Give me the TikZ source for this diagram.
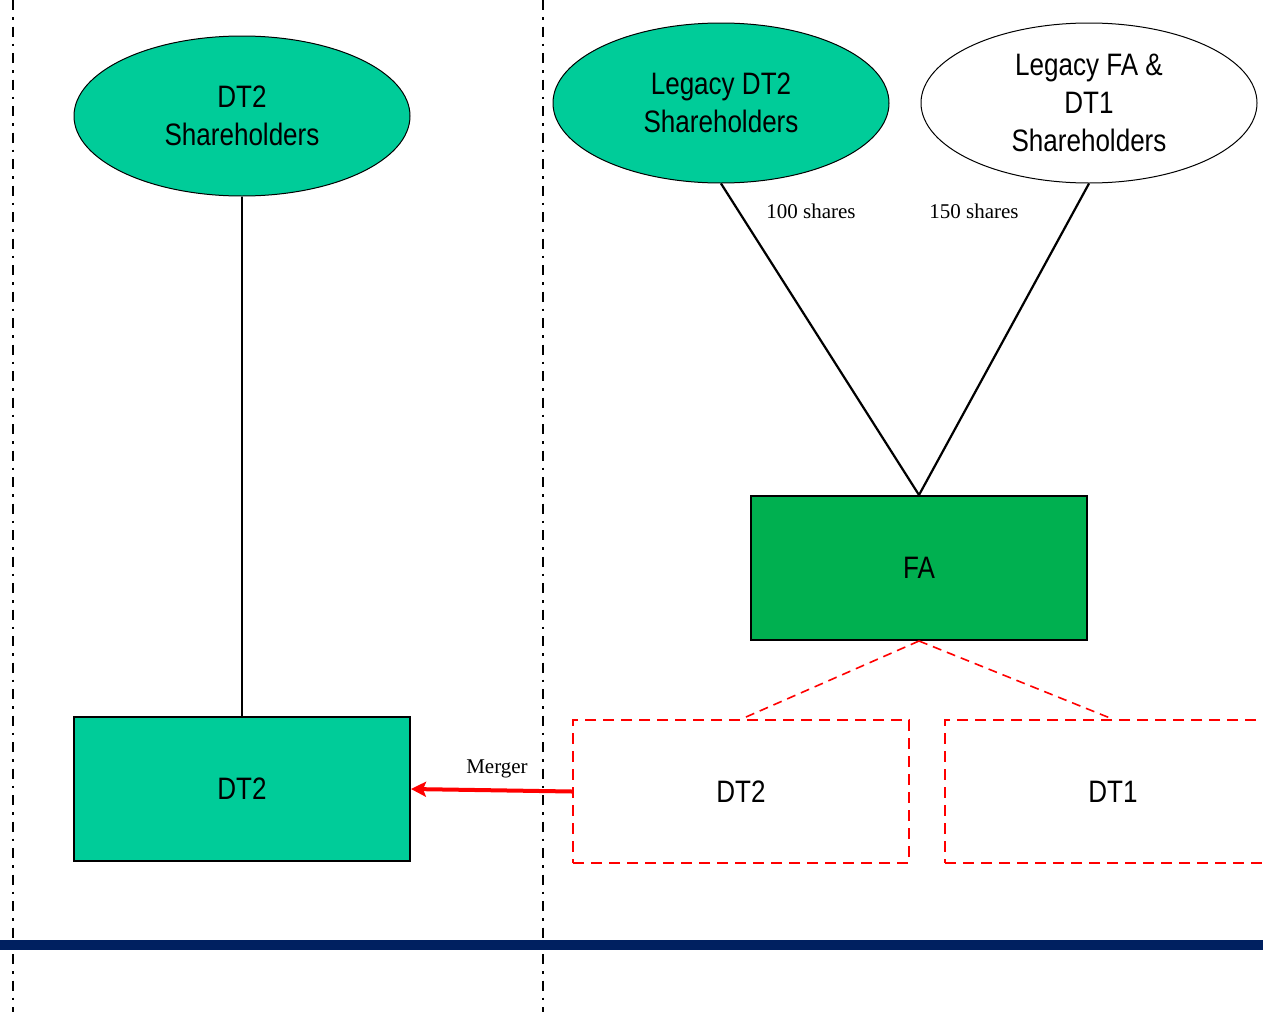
\documentclass[tikz,border=0pt]{standalone}
\usepackage{fontspec}
\setmainfont{Liberation Serif}
\newfontfamily\labelfont[FakeStretch=0.84]{Liberation Sans}
\usetikzlibrary{shapes.geometric,arrows.meta}
\definecolor{holdgreen}{RGB}{0,204,153}
\definecolor{fagreen}{RGB}{0,176,80}
\definecolor{navyline}{RGB}{0,32,96}
\definecolor{mergered}{RGB}{255,0,0}
\tikzset{
  boxtext/.style={font=\labelfont\fontsize{31}{38}\selectfont, align=center, text=black,
    execute at begin node={\vspace*{4pt}}},
  holder/.style={boxtext, ellipse, draw=black, line width=1pt, minimum width=336pt, minimum height=160pt, inner sep=0pt},
  entity/.style={boxtext, rectangle, draw=black, line width=2pt, minimum width=336pt, minimum height=144pt, inner sep=0pt},
  newentity/.style={boxtext, rectangle, draw=mergered, line width=1.6pt, dash pattern=on 11pt off 7pt, minimum width=336pt, minimum height=143pt, inner sep=0pt},
  owns/.style={draw=black, line width=2.2pt},
  subsid/.style={draw=mergered, line width=1.6pt, dash pattern=on 9pt off 6pt},
  divider/.style={draw=black, line width=2.4pt, dash pattern=on 10pt off 7pt on 2.5pt off 7pt},
  share/.style={font=\fontsize{21}{24}\selectfont, inner sep=0pt},
  mergearrow/.style={draw=mergered, line width=4pt, -{Stealth[length=15pt,width=15pt,inset=3pt]}}
}
\begin{document}
\begin{tikzpicture}[x=1pt,y=-1pt]
\useasboundingbox (0,0) rectangle (1263,1012);
\clip (0,0) rectangle (1263,1012);

% column dividers and bottom rule
\coordinate (divAtop) at (13,0);
\coordinate (divAbot) at (13,1012);
\coordinate (divBtop) at (543,0);
\coordinate (divBbot) at (543,1012);
\coordinate (ruleL) at (0,945);
\coordinate (ruleR) at (1263,945);
\draw[divider] (divAtop) -- (divAbot);
\draw[divider] (divBtop) -- (divBbot);
\draw[navyline, line width=10pt] (ruleL) -- (ruleR);

% before: DT2 and its shareholders
\node[holder, fill=holdgreen] (dt2sh) at (242,116) {DT2\\Shareholders};
\node[entity, fill=holdgreen] (dt2) at (242,789) {DT2};
\draw[owns] (dt2sh.south) -- (dt2.north);

% after: FA owned by both shareholder groups
\node[holder, fill=holdgreen] (legdt2) at (721,103) {Legacy DT2\\Shareholders};
\node[holder, fill=white] (legfa) at (1089,103) {Legacy FA \&\\DT1\\Shareholders};
\node[entity, fill=fagreen] (fa) at (919,568) {FA};
\draw[owns] (legdt2.south) -- (fa.north);
\draw[owns] (legfa.south) -- (fa.north);
\node[share] (lab100) at (811,211) {100 shares};
\node[share] (lab150) at (974,211) {150 shares};

% subsidiaries of FA
\node[newentity] (newdt2) at (741,791.5) {DT2};
\node[newentity] (newdt1) at (1113,791.5) {DT1};
\draw[subsid] (fa.south) -- (newdt2.north);
\draw[subsid] (fa.south) -- (newdt1.north);

% merger
\draw[mergearrow] (newdt2.west) -- (dt2.east);
\node[share] (mergerlab) at (497,769) {Merger};
\end{tikzpicture}
\end{document}
